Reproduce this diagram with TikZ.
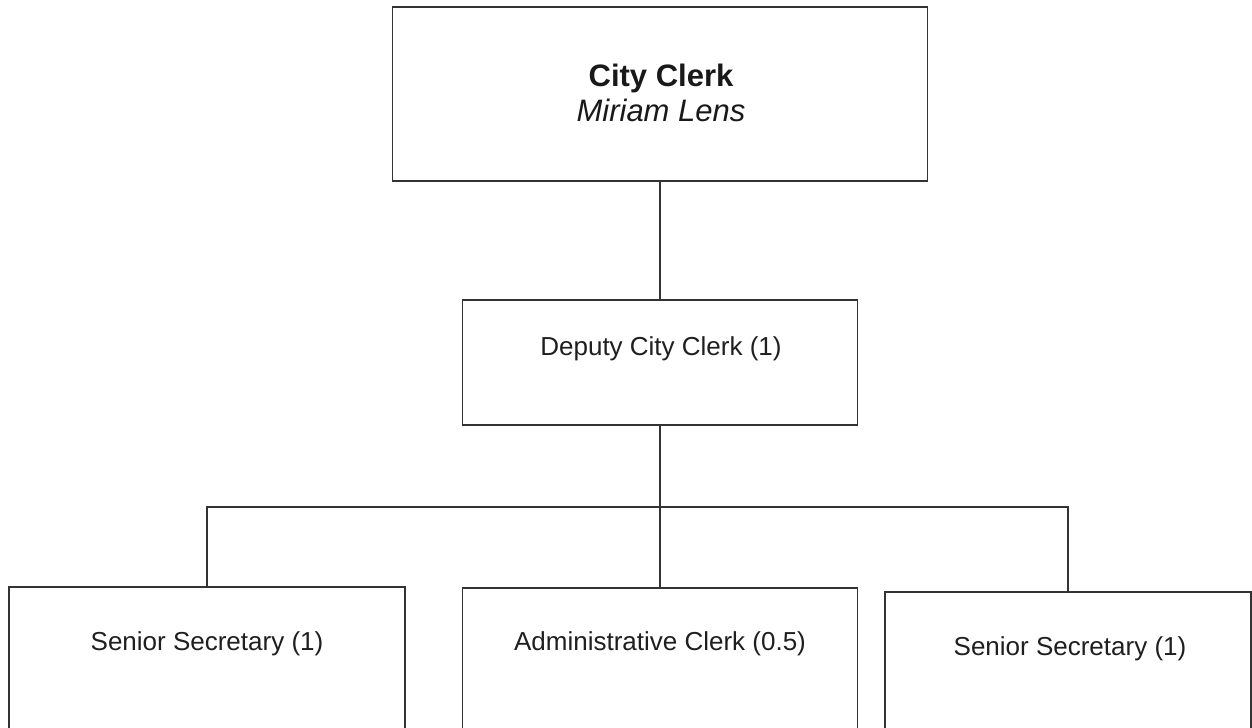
\documentclass[tikz,border=0pt]{standalone}
\usepackage{fontspec}
\setmainfont{Liberation Sans}
\begin{document}
\begin{tikzpicture}[x=1bp,y=-1bp,
  box/.style={draw=black!80, line width=1.3bp, fill=white, inner sep=0pt, rectangle},
  link/.style={draw=black!80, line width=1.3bp},
  lbl/.style={inner sep=0pt, text=black!88, font=\fontsize{26bp}{30bp}\selectfont},
  headlbl/.style={inner sep=0pt, text=black!90, align=center, font=\fontsize{31bp}{35bp}\selectfont}]
  \useasboundingbox (0,0) rectangle (1252,728);
  \clip (0,0) rectangle (1252,728);
  \fill[white] (0,0) rectangle (1252,728);

  % boxes
  \node[box, minimum width=535bp, minimum height=174bp] (clerk) at (660,94) {};
  \node[box, minimum width=395bp, minimum height=125bp] (deputy) at (660,362.5) {};
  \node[box, minimum width=396bp, minimum height=170bp] (sec1) at (207,672) {};
  \node[box, minimum width=395bp, minimum height=170bp] (admin) at (660,673) {};
  \node[box, minimum width=366bp, minimum height=170bp] (sec2) at (1068,677) {};

  % labels
  \node[headlbl] (clerktxt) at (661,93) {\textbf{City Clerk}\\\textit{Miriam Lens}};
  \node[lbl] (deputytxt) at (661,349) {Deputy City Clerk (1)};
  \node[lbl] (sec1txt) at (207,644) {Senior Secretary (1)};
  \node[lbl] (admintxt) at (660,644) {Administrative Clerk (0.5)};
  \node[lbl] (sec2txt) at (1070,649) {Senior Secretary (1)};

  % reporting lines
  \coordinate (bus) at (660,507);
  \draw[link] (clerk.south) -- (deputy.north);
  \draw[link] (deputy.south) -- (admin.north);
  \draw[link] (sec1.north) |- (bus) -| (sec2.north);
\end{tikzpicture}
\end{document}
